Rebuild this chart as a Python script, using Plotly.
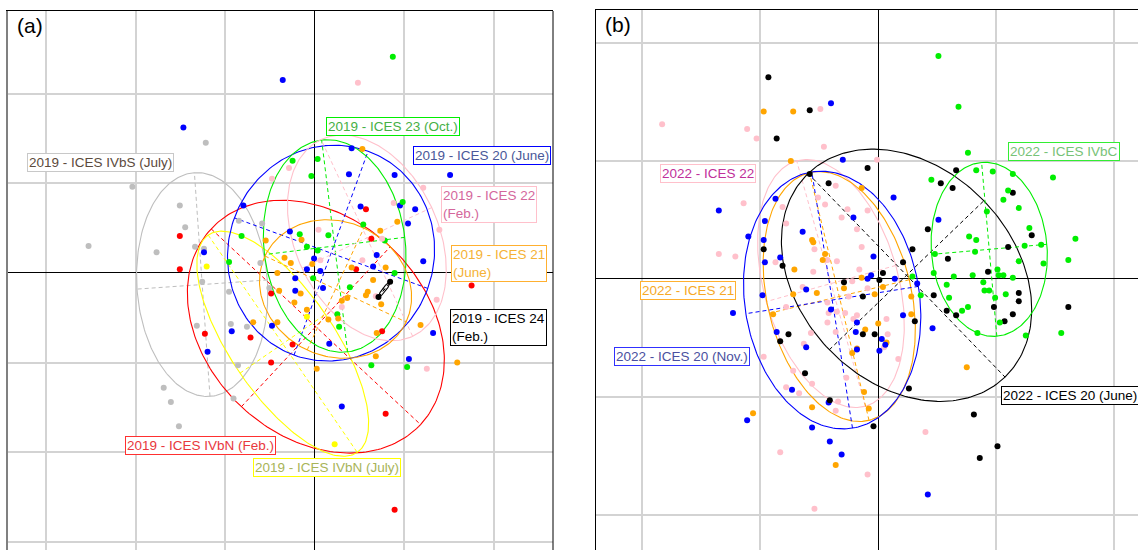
import numpy as np
import plotly.graph_objects as go

FONT = "Liberation Sans, Arial, sans-serif"

# ---------------------------------------------------------------
# Panel (a) - 2019 surveys: sample scores (axis 1, axis 2)
# ---------------------------------------------------------------
IVBS_JUL_2019 = [(-1.22, 1.45), (-2.04, 0.96), (-2.53, 0.30), (-1.51, 0.75), (-1.45, 0.51),
                 (-1.77, 0.23), (-1.34, 0.29), (-1.24, 0.27), (-0.85, 0.58), (-0.59, 0.55),
                 (-0.61, 0.11), (-1.26, -0.10), (-0.96, -0.21), (-0.51, -0.17), (-1.32, -0.59),
                 (-0.94, -0.57), (-0.76, -0.60), (-0.86, -1.03), (-0.91, -1.40), (-1.69, -1.28),
                 (-1.61, -1.44), (-1.52, -1.71)]
IVBN_FEB_2019 = [(-1.51, 0.41), (-1.51, 0.04), (0.57, 0.71), (0.63, 0.38), (0.46, 0.04),
                 (1.75, -0.14), (0.75, -0.65), (-0.49, -0.23), (-1.23, -0.68), (-0.72, -0.72),
                 (-0.25, -0.80), (-0.49, -1.00), (0.79, -1.57), (0.89, -2.64)]
IVBN_JUL_2019 = [(-1.21, 0.07), (-0.09, -0.49), (0.22, -1.91)]
ICES20_JUN_2019 = [(-0.36, 2.15), (-1.47, 1.62), (-0.80, 0.75), (-1.24, 0.23), (-0.28, 0.46),
                   (-0.22, -0.06), (-0.22, -0.20), (0.41, 1.39), (0.38, 1.10), (0.89, 1.09),
                   (1.51, 1.09), (0.95, 0.75), (1.12, 0.71), (0.51, 0.74), (1.04, 0.55),
                   (-0.01, 0.16), (0.69, 0.20), (0.65, 0.07), (1.21, 0.13), (-0.09, 0.04),
                   (0.06, 0.02), (0.09, -0.17), (1.32, -0.67), (1.05, -0.96), (0.16, -0.79),
                   (0.30, -1.49), (-0.93, -0.65), (-0.48, -0.59), (-1.20, -0.88)]
ICES23_OCT_2019 = [(0.87, 2.41), (-0.25, 1.25), (0.03, 1.27), (-0.04, 1.08), (0.98, 0.79),
                   (0.54, 0.54), (0.78, 0.36), (0.15, 0.42), (-0.17, 0.43), (-0.09, 0.29),
                   (0.03, 0.25), (0.89, 0.00), (-0.82, 0.41), (-0.96, 0.12), (-0.02, -0.06),
                   (0.39, -0.16), (0.25, -0.46), (0.27, -0.60), (0.63, -1.03), (1.03, -1.05)]
ICES22_FEB_2019 = [(0.48, 2.12), (-0.29, 1.17), (-0.48, 1.05), (1.21, 0.95), (0.88, 0.78),
                   (1.39, 0.48), (0.75, 0.38), (0.04, 0.48), (0.06, 0.14), (0.53, 0.14),
                   (0.68, -0.26), (0.30, -0.38), (1.36, -0.30), (1.25, -1.07)]
ICES21_JUN_2019 = [(-0.55, 0.36), (-0.34, 0.17), (-0.27, 0.11), (-0.42, 0.00), (0.53, 1.38),
                   (0.92, 0.57), (0.73, 0.47), (-0.15, 0.37), (-0.03, 0.10), (0.41, 0.06),
                   (0.79, 0.06), (0.65, -0.08), (0.59, -0.21), (0.57, -0.25), (0.74, -0.35),
                   (0.36, -0.28), (0.30, -0.31), (0.15, -0.52), (0.26, -0.51), (0.69, -0.67),
                   (0.68, -0.93), (1.18, -0.58), (1.59, -1.00), (0.02, -1.07), (-0.16, -0.23),
                   (-0.23, -0.33), (-0.09, -0.41), (-0.40, -0.20), (-0.69, -0.55), (-0.42, -0.55)]
ICES24_FEB_2019 = [(0.71, -0.27), (0.84, -0.10)]

# ---------------------------------------------------------------
# Panel (b) - 2022 surveys
# ---------------------------------------------------------------
ICES20_JUN_2022 = [(-0.93, 1.71), (-0.58, 1.43), (-0.86, 1.19), (-0.09, 0.94), (-0.58, 0.89),
                   (-0.42, 0.81), (-0.97, 0.25), (-0.81, 0.11), (-0.29, -0.03), (0.01, -0.01),
                   (0.04, 0.05), (-0.13, -0.15), (-0.13, -0.47), (-0.03, -0.47), (-0.76, -0.47),
                   (-0.83, -0.53), (-0.62, -0.80), (-0.41, -1.03), (-0.04, -1.25), (0.31, -0.36),
                   (0.26, -0.93), (0.81, -1.15), (1.01, -1.42), (0.86, -1.52), (1.61, -0.24),
                   (1.14, -0.30), (0.98, -0.24), (1.19, -0.19), (1.19, -0.12), (0.58, -0.27),
                   (0.66, -0.31), (0.47, -0.14), (0.93, 0.06), (0.66, 0.92), (0.53, 0.81),
                   (0.63, 0.77), (1.14, 0.73), (0.42, 0.42), (1.30, 0.37), (1.10, 0.27),
                   (0.29, 0.25), (0.59, 0.17), (0.21, 0.14), (1.07, -0.36)]
IVBC_2022 = [(0.51, 1.89), (0.68, 1.46), (0.76, 1.07), (0.83, 0.92), (0.97, 0.91), (1.14, 0.89),
             (1.48, 0.86), (0.45, 0.84), (1.10, 0.75), (1.06, 0.67), (1.19, 0.60), (0.92, 0.57),
             (1.28, 0.43), (0.77, 0.36), (0.83, 0.33), (1.24, 0.28), (1.38, 0.29), (0.48, 0.21),
             (0.82, 0.23), (1.19, 0.15), (1.40, 0.13), (1.61, 0.16), (1.67, 0.34), (0.47, 0.05),
             (1.01, 0.08), (1.02, 0.03), (1.06, 0.03), (1.14, 0.01), (0.64, 0.02), (0.80, 0.03),
             (0.29, 0.02), (0.58, -0.05), (0.89, -0.03), (0.90, -0.10), (0.94, -0.10),
             (1.08, -0.13), (0.36, -0.14), (0.60, -0.16), (0.99, -0.16), (0.76, -0.24),
             (0.71, -0.27), (1.03, -0.37), (0.84, -0.46), (1.25, -0.48), (1.55, -0.46)]
ICES20_NOV_2022 = [(-0.40, 1.49), (-0.30, 1.01), (-0.87, 0.68), (-1.35, 0.58), (-0.21, 0.52),
                   (-0.96, 0.49), (-0.64, 0.40), (-1.10, 0.36), (-0.97, 0.33), (-0.96, 0.14),
                   (-0.83, 0.18), (-0.04, 0.19), (-0.06, 0.03), (-0.09, 0.00), (0.14, 0.00),
                   (0.33, -0.04), (-0.61, -0.09), (-0.98, -0.14), (-1.23, -0.29), (-0.40, -0.26),
                   (-0.18, -0.37), (-0.19, -0.45), (-0.86, -0.45), (0.03, -0.51), (0.01, -0.61),
                   (0.06, -0.56), (-0.61, -0.58), (-0.18, -0.60), (0.21, -0.31), (0.46, -0.42),
                   (-0.73, -0.94), (-0.42, -1.05), (-1.11, -1.20), (-0.56, -1.26), (-0.41, -1.38),
                   (-0.31, -1.49), (0.42, -1.83), (0.13, 0.69), (0.51, 0.50)]
ICES21_2022 = [(-0.97, 1.42), (-0.72, 1.42), (-0.74, 1.00), (-0.14, 0.77), (-0.56, 0.33),
               (-0.55, 0.31), (-0.45, 0.21), (-0.47, 0.16), (-0.71, 0.08), (-0.14, 0.01),
               (-0.29, -0.08), (-0.52, -0.12), (-0.72, -0.13), (-0.03, -0.13), (0.04, -0.07),
               (-0.89, -0.30), (0.00, -0.38), (-0.11, -0.43), (-0.18, -0.59), (-0.22, -0.63),
               (0.07, -0.54), (0.28, -0.15), (0.28, -0.30), (-0.12, -0.96), (-0.56, -1.09),
               (-0.08, -1.10), (-1.06, -1.14), (-0.36, -1.58), (0.75, -0.75)]
ICES22_2022 = [(-0.49, 1.44), (-1.83, 1.31), (-1.11, 1.27), (-1.03, 1.19), (-0.46, 1.12),
               (-0.01, 1.01), (-0.36, 0.79), (-1.14, 0.64), (-0.51, 0.69), (-0.45, 0.63),
               (-0.26, 0.59), (-0.09, 0.58), (-0.81, 0.61), (-0.78, 0.47), (-0.31, 0.52),
               (-0.18, 0.42), (-0.54, 0.25), (-0.14, 0.27), (-1.35, 0.21), (-1.21, 0.19),
               (-0.87, 0.14), (-0.43, 0.16), (-0.35, 0.15), (-0.55, 0.06), (-0.16, 0.08),
               (-0.22, -0.02), (-0.64, -0.07), (-0.25, -0.15), (-0.09, -0.08), (-0.78, -0.24),
               (-0.43, -0.20), (-0.42, -0.29), (-0.35, -0.28), (-0.28, -0.29), (-0.18, -0.31),
               (-0.21, -0.34), (-0.43, -0.37), (-0.57, -0.46), (-0.36, -0.45), (0.07, -0.34),
               (0.08, -0.47), (0.05, -0.58), (-0.63, -0.55), (-0.97, -0.66), (-0.72, -0.78),
               (-0.78, -0.92), (-0.67, -0.97), (-0.56, -0.89), (-0.36, -1.12), (-0.34, -1.04),
               (-0.27, -0.84), (0.17, -0.68), (-0.83, -1.47), (-0.09, -1.66), (-0.54, -1.95),
               (0.40, -1.30)]

# Group ellipses: centre x, centre y, semi-major, semi-minor, angle (deg)
ELL_IVBS_JUL_2019 = (-1.26, -0.13, 1.25, 0.73, 94.0)
ELL_IVBN_FEB_2019 = (0.01, -0.60, 1.60, 1.22, -43.0)
ELL_IVBN_JUL_2019 = (-0.36, -0.79, 1.47, 0.58, -55.5)
ELL_ICES20_JUN_2019 = (0.18, 0.22, 1.21, 1.15, 70.0)
ELL_ICES23_OCT_2019 = (0.22, 0.30, 1.19, 0.79, 97.0)
ELL_ICES22_FEB_2019 = (0.58, 0.39, 1.21, 0.80, 115.0)
ELL_ICES21_JUN_2019 = (0.23, -0.18, 0.87, 0.75, -25.0)
ELL_ICES24_FEB_2019 = (0.775, -0.185, 0.107, 0.02, 52.6)

ELL_ICES20_JUN_2022 = (0.24, 0.03, 1.20, 0.91, -46.0)
ELL_IVBC_2022 = (0.94, 0.25, 0.74, 0.49, 95.0)
ELL_ICES20_NOV_2022 = (-0.39, -0.18, 1.10, 0.74, 99.0)
ELL_ICES21_2022 = (-0.33, -0.15, 1.08, 0.61, 103.5)
ELL_ICES22_2022 = (-0.40, -0.04, 1.08, 0.57, 105.6)

# ---------------------------------------------------------------
# Styling and label placement per group
# ---------------------------------------------------------------
PANEL_A = [
    dict(pts=IVBS_JUL_2019, ell=ELL_IVBS_JUL_2019, col="#bebebe", text="2019 - ICES IVbS (July)",
         tcol="#5b4a3c", bcol="#c8c8c8", lx=-2.40, ly=1.23),
    dict(pts=IVBN_FEB_2019, ell=ELL_IVBN_FEB_2019, col="#ff0000", text="2019 - ICES IVbN (Feb.)",
         tcol="#e8383d", bcol="#ff3030", lx=-1.28, ly=-1.93),
    dict(pts=IVBN_JUL_2019, ell=ELL_IVBN_JUL_2019, col="#ffff00", text="2019 - ICES IVbN (July)",
         tcol="#a8b457", bcol="#ffff00", lx=0.14, ly=-2.17),
    dict(pts=ICES20_JUN_2019, ell=ELL_ICES20_JUN_2019, col="#0000ff", text="2019 - ICES 20 (June)",
         tcol="#4a5899", bcol="#0000ff", lx=1.87, ly=1.31),
    dict(pts=ICES23_OCT_2019, ell=ELL_ICES23_OCT_2019, col="#00ee00", text="2019 - ICES 23 (Oct.)",
         tcol="#45b045", bcol="#00ee00", lx=0.87, ly=1.63),
    dict(pts=ICES22_FEB_2019, ell=ELL_ICES22_FEB_2019, col="#ffc0cb", text="2019 - ICES 22<br>(Feb.)",
         tcol="#d4679c", bcol="#ffc0cb", lx=1.94, ly=0.76),
    dict(pts=ICES21_JUN_2019, ell=ELL_ICES21_JUN_2019, col="#ffa500", text="2019 - ICES 21<br>(June)",
         tcol="#f5b236", bcol="#ffb030", lx=2.06, ly=0.11),
    dict(pts=ICES24_FEB_2019, ell=ELL_ICES24_FEB_2019, col="#000000", text="2019 - ICES 24<br>(Feb.)",
         tcol="#000000", bcol="#000000", lx=2.05, ly=-0.61),
]

PANEL_B = [
    dict(pts=ICES22_2022, ell=ELL_ICES22_2022, col="#ffc0cb", text="2022 - ICES 22",
         tcol="#c0309a", bcol="#ffc0cb", lx=-1.44, ly=0.89),
    dict(pts=ICES21_2022, ell=ELL_ICES21_2022, col="#ffa500", text="2022 - ICES 21",
         tcol="#f6a826", bcol="#ffb030", lx=-1.61, ly=-0.10),
    dict(pts=ICES20_NOV_2022, ell=ELL_ICES20_NOV_2022, col="#0000ff", text="2022 - ICES 20 (Nov.)",
         tcol="#4a50a0", bcol="#3030ff", lx=-1.66, ly=-0.66),
    dict(pts=ICES20_JUN_2022, ell=ELL_ICES20_JUN_2022, col="#000000", text="2022 - ICES 20 (June)",
         tcol="#000000", bcol="#000000", lx=1.62, ly=-0.99),
    dict(pts=IVBC_2022, ell=ELL_IVBC_2022, col="#00ee00", text="2022 - ICES IVbC",
         tcol="#77c277", bcol="#33ee33", lx=1.57, ly=1.08),
]


def ellipse_path(cx, cy, a, b, theta_deg, n=240):
    t = np.linspace(0, 2 * np.pi, n)
    th = np.deg2rad(theta_deg)
    x = cx + a * np.cos(t) * np.cos(th) - b * np.sin(t) * np.sin(th)
    y = cy + a * np.cos(t) * np.sin(th) + b * np.sin(t) * np.cos(th)
    return x, y


def ellipse_axes(cx, cy, a, b, theta_deg):
    th = np.deg2rad(theta_deg)
    ux, uy = np.cos(th), np.sin(th)
    vx, vy = -uy, ux
    xs = [cx - a * ux, cx + a * ux, None, cx - b * vx, cx + b * vx]
    ys = [cy - a * uy, cy + a * uy, None, cy - b * vy, cy + b * vy]
    return xs, ys


fig = go.Figure()
annotations = []


def add_panel(groups, xa, ya):
    # ellipses and their principal axes
    for g in groups:
        ex, ey = ellipse_path(*g["ell"])
        fig.add_trace(go.Scatter(x=ex, y=ey, mode="lines", xaxis=xa, yaxis=ya,
                                 line=dict(color=g["col"], width=1.1), hoverinfo="skip"))
        ax, ay = ellipse_axes(*g["ell"])
        fig.add_trace(go.Scatter(x=ax, y=ay, mode="lines", xaxis=xa, yaxis=ya,
                                 line=dict(color=g["col"], width=1, dash="4px,3px"),
                                 hoverinfo="skip"))
    # sample points
    for g in groups:
        px = [p[0] for p in g["pts"]]
        py = [p[1] for p in g["pts"]]
        fig.add_trace(go.Scatter(x=px, y=py, mode="markers", xaxis=xa, yaxis=ya,
                                 marker=dict(color=g["col"], size=6, line=dict(width=0))))
    # boxed group labels
    for g in groups:
        annotations.append(dict(
            x=g["lx"], y=g["ly"], xref=xa, yref=ya, text=g["text"], showarrow=False,
            align="left", font=dict(family=FONT, size=13.5, color=g["tcol"]),
            bgcolor="white", bordercolor=g["bcol"], borderwidth=1, borderpad=1))


add_panel(PANEL_A, "x", "y")
add_panel(PANEL_B, "x2", "y2")

annotations.append(dict(text="(a)", x=0.012, y=0.998, xref="x domain", yref="y domain",
                        xanchor="left", yanchor="top", showarrow=False,
                        font=dict(family=FONT, size=21, color="black")))
annotations.append(dict(text="(b)", x=0.012, y=0.998, xref="x2 domain", yref="y2 domain",
                        xanchor="left", yanchor="top", showarrow=False,
                        font=dict(family=FONT, size=21, color="black")))

GRID = "#d3d3d3"
common_axis = dict(dtick=1, tick0=0, showticklabels=False, ticks="", showgrid=True,
                   gridcolor=GRID, gridwidth=1.5, zeroline=True, zerolinecolor="black",
                   zerolinewidth=1.2, showline=True)

fig.update_layout(
    width=1138, height=550, margin=dict(l=0, r=0, t=0, b=0),
    paper_bgcolor="white", plot_bgcolor="white", showlegend=False,
    xaxis=dict(domain=[8 / 1138, 553 / 1138], range=[-3.43, 2.66], side="top",
               linecolor="black", linewidth=1, anchor="y", **common_axis),
    yaxis=dict(domain=[0, 1 - 11 / 550], range=[-3.09, 2.92], linecolor="#808080",
               linewidth=2, anchor="x", **common_axis),
    xaxis2=dict(domain=[596 / 1138, 1.0], range=[-2.39, 2.20], side="top",
                linecolor="black", linewidth=1, anchor="y2", **common_axis),
    yaxis2=dict(domain=[0, 1 - 10 / 550], range=[-2.30, 2.28], linecolor="black",
                linewidth=1, anchor="x2", **common_axis),
    annotations=annotations,
    shapes=[dict(type="line", xref="x domain", yref="y domain", x0=1, x1=1, y0=0, y1=1,
                 line=dict(color="black", width=1))],
)

fig.write_html("out.html")
